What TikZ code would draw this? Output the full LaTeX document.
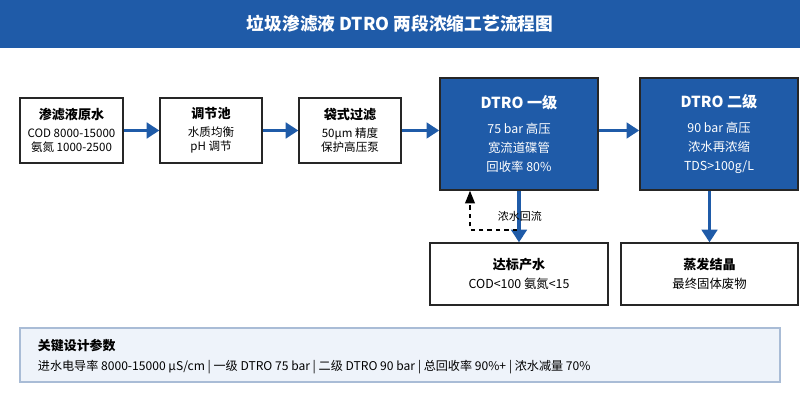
\documentclass[tikz,border=0pt]{standalone}
\usepackage{fontspec}
\setmainfont{Noto Sans CJK SC}
\usepackage{tikz}
\usetikzlibrary{positioning, calc, arrows.meta}
\definecolor{flowblue}{HTML}{1F5BA8}
\definecolor{panelfill}{HTML}{EEF3FA}
\definecolor{panelline}{HTML}{A9BCD6}
\tikzset{
  stage/.style={draw=black!85, line width=0.9pt, fill=white, align=center, inner sep=2pt},
  core/.style={draw=black!85, line width=1.1pt, fill=flowblue, text=white, align=center},
  flow/.style={draw=flowblue, line width=2.2pt, -{Triangle[length=9pt, width=11pt]}},
  reflux/.style={draw=black, line width=0.9pt, dashed, -{Triangle[length=9pt, width=7pt]}},
}
\newcommand{\ttl}[1]{{\fontsize{9.3}{11}\selectfont\bfseries #1}}
\newcommand{\sub}[1]{{\fontsize{8.2}{10.5}\selectfont #1}}
\newcommand{\csub}[1]{{\fontsize{8.8}{11}\selectfont #1}}
\begin{document}
\begin{tikzpicture}[x=0.025cm, y=-0.025cm]
  \useasboundingbox (0,0) rectangle (800,400);
  % title bar
  \fill[flowblue] (0,0) rectangle (800,48);
  \node[text=white, font=\fontsize{12.6}{15}\selectfont\bfseries] (title) at (400,24) {垃圾渗滤液 DTRO 两段浓缩工艺流程图};
  % pretreatment chain
  \node[stage, minimum width=103*0.025cm, minimum height=65*0.025cm] (raw) at (71.5,130.5)
    {\ttl{渗滤液原水}\\[1pt]\sub{COD 8000-15000}\\[-2pt]\sub{氨氮 1000-2500}};
  \node[stage, minimum width=102*0.025cm, minimum height=65*0.025cm] (tank) at (211,130.5)
    {\ttl{调节池}\\[1pt]\sub{水质均衡}\\[-2pt]\sub{pH 调节}};
  \node[stage, minimum width=102*0.025cm, minimum height=65*0.025cm] (bag) at (350,130.5)
    {\ttl{袋式过滤}\\[1pt]\sub{50μm 精度}\\[-2pt]\sub{保护高压泵}};
  % DTRO stages
  \node[core, minimum width=158*0.025cm, minimum height=112*0.025cm] (dtro1) at (519,134)
    {\fontsize{10.8}{13}\selectfont\bfseries DTRO 一级\\[6pt]\csub{75 bar 高压}\\[1.5pt]\csub{宽流道碟管}\\[1.5pt]\csub{回收率 80\%}};
  \node[core, minimum width=158*0.025cm, minimum height=112*0.025cm] (dtro2) at (719,134)
    {\fontsize{10.8}{13}\selectfont\bfseries DTRO 二级\\[6pt]\csub{90 bar 高压}\\[1.5pt]\csub{浓水再浓缩}\\[1.5pt]\csub{TDS>100g/L}};
  % outputs
  \node[stage, minimum width=178*0.025cm, minimum height=62*0.025cm] (clean) at (519,274)
    {\ttl{达标产水}\\[2pt]\csub{COD<100 氨氮<15}};
  \node[stage, minimum width=177*0.025cm, minimum height=62*0.025cm] (evap) at (709.5,274)
    {\ttl{蒸发结晶}\\[2pt]\csub{最终固体废物}};
  % connectors
  \draw[flow] (raw) -- (tank);
  \draw[flow] (tank) -- (bag);
  \draw[flow] (bag) -- (bag -| dtro1.west);
  \draw[flow] (dtro1.east |- bag) -- (dtro2.west |- bag);
  \draw[flow] (dtro1) -- (clean);
  \draw[flow] (dtro2.south -| evap) -- (evap);
  \coordinate (back) at (517,230);
  \draw[reflux] (back) -| (dtro1.south -| 470,0);
  \node[anchor=west, font=\fontsize{7.8}{9}\selectfont] (refluxlbl) at (493,216) {浓水回流};
  % parameter panel
  \draw[panelline, fill=panelfill, line width=0.8pt] (20,328) rectangle (780,382);
  \node[anchor=west, font=\fontsize{9.2}{11}\selectfont\bfseries] (ptitle) at (33,346) {关键设计参数};
  \node[anchor=west, font=\fontsize{8.6}{10}\selectfont] (ptext) at (33,367)
    {进水电导率 8000-15000 μS/cm | 一级 DTRO 75 bar | 二级 DTRO 90 bar | 总回收率 90\%+ | 浓水减量 70\%};
\end{tikzpicture}
\end{document}
